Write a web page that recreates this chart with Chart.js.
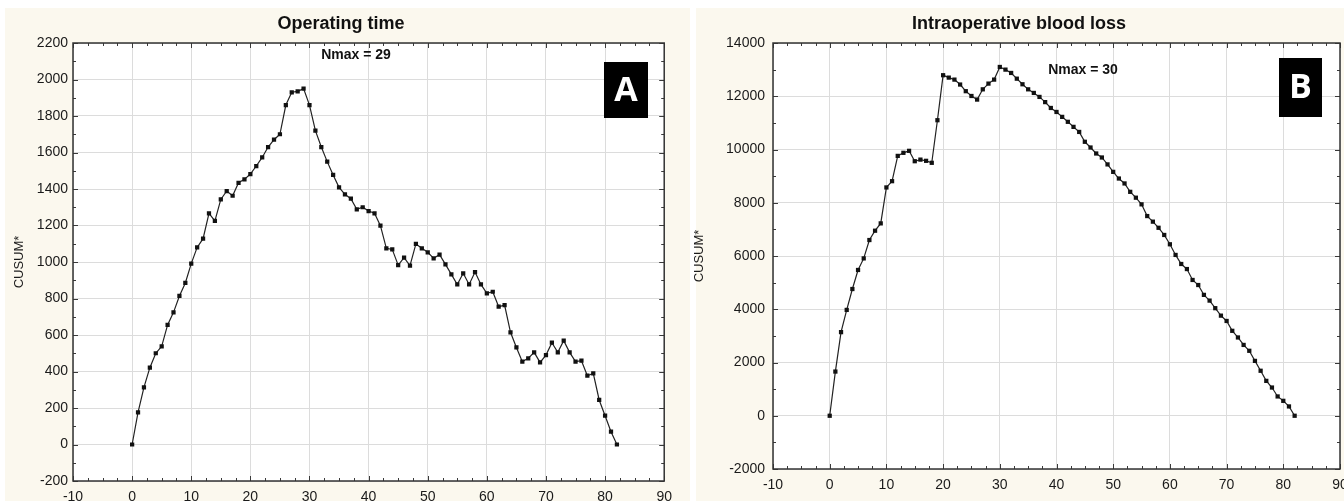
<!DOCTYPE html>
<html>
<head>
<meta charset="utf-8">
<script src="https://cdn.jsdelivr.net/npm/chart.js@4.4.0/dist/chart.umd.min.js"></script>
<style>
  html, body { margin: 0; padding: 0; background: #fff; overflow: hidden; width: 1344px; height: 501px; }
  .panel { position: absolute; top: 8px; height: 520px; background: #fbf8ee; }
  #panelA { left: 5px; width: 685px; }
  #panelB { left: 696px; width: 660px; }
  canvas { position: absolute; top: 0; }
  #chartA { left: 0; }
  #chartB { left: 680px; }
</style>
</head>
<body>
<div class="panel" id="panelA"></div>
<div class="panel" id="panelB"></div>
<canvas id="chartA" width="680" height="520"></canvas>
<canvas id="chartB" width="700" height="520"></canvas>
<script>
// ====== Data ======
const CASES = [0,1,2,3,4,5,6,7,8,9,10,11,12,13,14,15,16,17,18,19,20,21,22,23,24,25,26,27,28,29,
  30,31,32,33,34,35,36,37,38,39,40,41,42,43,44,45,46,47,48,49,50,51,52,53,54,55,56,57,58,59,
  60,61,62,63,64,65,66,67,68,69,70,71,72,73,74,75,76,77,78,79,80,81,82];

// CUSUM of operating time (panel A)
const OPERATING_TIME = [0,176,313,421,500,538,655,724,814,885,991,1080,1128,1267,1225,1343,1389,1363,1434,1453,
  1482,1526,1573,1630,1670,1700,1860,1930,1935,1950,1860,1720,1630,1550,1477,1409,1371,1347,1289,1300,
  1279,1267,1199,1075,1069,983,1024,980,1099,1075,1053,1020,1040,987,932,877,938,877,945,877,
  828,837,755,764,615,532,454,472,505,450,490,558,505,569,505,454,459,377,390,244,
  158,70,0];

// CUSUM of intraoperative blood loss (panel B)
const BLOOD_LOSS = [0,1660,3140,3975,4760,5475,5910,6600,6950,7225,8575,8810,9760,9875,9950,9560,9620,9575,9500,11100,
  12790,12700,12625,12440,12190,12010,11875,12260,12475,12625,13100,13000,12875,12660,12450,12260,12125,11975,11780,11560,
  11410,11225,11040,10850,10660,10290,10075,9850,9700,9440,9160,8910,8725,8410,8190,7940,7500,7290,7060,6790,
  6440,6040,5700,5510,5100,4910,4540,4325,4040,3760,3560,3190,2940,2660,2440,2060,1690,1310,1060,725,
  560,350,0];

const X_TICKS = [-10, 0, 10, 20, 30, 40, 50, 60, 70, 80, 90];

Chart.defaults.font.family = '"Liberation Sans", Arial, sans-serif';
Chart.defaults.color = '#1a1a1a';

// ====== Plot frame, white background and inward ticks ======
const framePlugin = {
  id: 'frame',
  beforeDraw(chart) {
    const a = chart.chartArea, ctx = chart.ctx;
    ctx.save();
    ctx.fillStyle = '#ffffff';
    ctx.fillRect(a.left, a.top, a.right - a.left, a.bottom - a.top);
    ctx.restore();
  },
  afterDraw(chart, args, opts) {
    const a = chart.chartArea, ctx = chart.ctx;
    const xs = chart.scales.x, ys = chart.scales.y;
    ctx.save();
    ctx.strokeStyle = '#3a3a3a';
    ctx.lineWidth = 1;
    // minor + major ticks on x edges
    for (let v = xs.min; v <= xs.max + 1e-9; v += opts.xMinor) {
      const px = Math.round(xs.getPixelForValue(v)) + 0.5;
      const major = Math.abs((v - xs.min) % 10) < 1e-6;
      const len = major ? 5 : 3;
      ctx.beginPath();
      ctx.moveTo(px, a.bottom); ctx.lineTo(px, a.bottom - len);
      ctx.moveTo(px, a.top); ctx.lineTo(px, a.top + len);
      ctx.stroke();
    }
    for (let v = ys.min; v <= ys.max + 1e-9; v += opts.yMinor) {
      const py = Math.round(ys.getPixelForValue(v)) + 0.5;
      const major = Math.abs((v - ys.min) % opts.yStep) < 1e-6;
      const len = major ? 5 : 3;
      ctx.beginPath();
      ctx.moveTo(a.left, py); ctx.lineTo(a.left + len, py);
      ctx.moveTo(a.right, py); ctx.lineTo(a.right - len, py);
      ctx.stroke();
    }
    ctx.lineWidth = 1.5;
    ctx.strokeStyle = '#333';
    ctx.strokeRect(a.left, a.top, a.right - a.left, a.bottom - a.top);
    ctx.restore();
  }
};

// ====== Title, Nmax note and panel letter ======
const panelTextPlugin = {
  id: 'panelText',
  afterDraw(chart, args, opts) {
    const ctx = chart.ctx;
    ctx.save();
    ctx.textAlign = 'center';
    ctx.textBaseline = 'middle';
    ctx.fillStyle = '#111';
    ctx.font = 'bold 18px "Liberation Sans", Arial, sans-serif';
    ctx.fillText(opts.title, opts.titleX, opts.titleY);

    ctx.font = 'bold 14px "Liberation Sans", Arial, sans-serif';
    ctx.fillText(opts.note, opts.noteX, opts.noteY);

    const b = opts.box;
    ctx.fillStyle = '#000';
    ctx.fillRect(b.x, b.y, b.w, b.h);
    ctx.fillStyle = '#fff';
    ctx.font = 'bold 34px "Open Sans", "Liberation Sans", sans-serif';
    ctx.fillText(opts.letter, b.x + b.w / 2, b.y + b.h / 2 + 1);
    ctx.restore();
  }
};

// ====== Chart builder ======
function buildChart(id, values, setup) {
  const points = CASES.map((c, i) => ({ x: c, y: values[i] }));
  return new Chart(document.getElementById(id), {
    type: 'line',
    data: {
      datasets: [{
        data: points,
        borderColor: '#222',
        borderWidth: 1.2,
        pointStyle: 'rect',
        pointRadius: 3,
        pointBorderWidth: 0,
        pointBackgroundColor: '#111',
        tension: 0
      }]
    },
    options: {
      responsive: false,
      animation: false,
      devicePixelRatio: 1,
      layout: { padding: setup.padding },
      plugins: {
        legend: { display: false },
        tooltip: { enabled: false },
        frame: { xMinor: 2.5, yMinor: setup.yStep / 2, yStep: setup.yStep },
        panelText: setup.text
      },
      scales: {
        x: {
          type: 'linear',
          min: -10, max: 90,
          afterBuildTicks: s => { s.ticks = X_TICKS.map(v => ({ value: v })); },
          afterFit: s => { s.height = 30; },
          border: { display: false },
          grid: { color: '#dcdcdc', lineWidth: 1, drawTicks: false },
          ticks: { font: { size: 14 }, padding: 8, maxRotation: 0, autoSkip: false,
                   callback: v => String(v) }
        },
        y: {
          min: setup.yMin, max: setup.yMax,
          afterFit: s => { s.width = setup.yWidth; },
          border: { display: false },
          grid: { color: '#dcdcdc', lineWidth: 1, drawTicks: false },
          ticks: { stepSize: setup.yStep, font: { size: 14 }, padding: setup.tickPad, autoSkip: false,
                   callback: v => String(v) },
          title: { display: true, text: 'CUSUM*', font: { size: 13 }, padding: { top: 12, bottom: 0 } }
        }
      }
    },
    plugins: [framePlugin, panelTextPlugin]
  });
}

// ====== Boot ======
(function boot() {
  buildChart('chartA', OPERATING_TIME, {
    yMin: -200, yMax: 2200, yStep: 200, yWidth: 73, tickPad: 5,
    padding: { left: 0, right: 15, top: 43, bottom: 9 },
    text: {
      title: 'Operating time', titleX: 341, titleY: 24,
      note: 'Nmax = 29', noteX: 356, noteY: 55,
      letter: 'A', box: { x: 604, y: 62, w: 44, h: 56 }
    }
  });
  buildChart('chartB', BLOOD_LOSS, {
    yMin: -2000, yMax: 14000, yStep: 2000, yWidth: 93, tickPad: 8,
    padding: { left: 0, right: 40, top: 43, bottom: 21 },
    text: {
      title: 'Intraoperative blood loss', titleX: 339, titleY: 24,
      note: 'Nmax = 30', noteX: 403, noteY: 70,
      letter: 'B', box: { x: 599, y: 58, w: 43, h: 59 }
    }
  });
})();
</script>
</body>
</html>
